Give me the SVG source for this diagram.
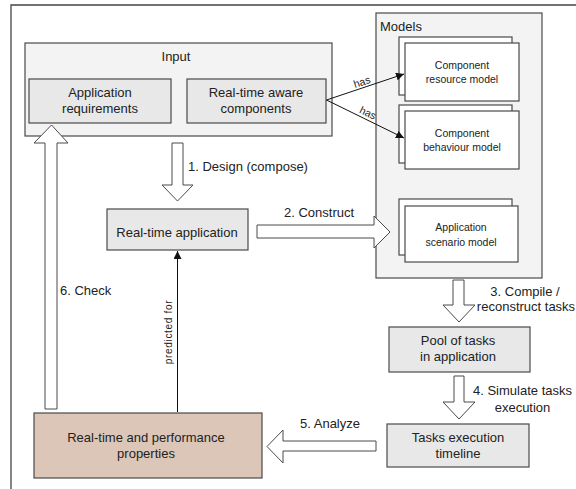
<svg xmlns="http://www.w3.org/2000/svg" width="576" height="489" viewBox="0 0 576 489">
<defs>
<style>
text{font-family:"Liberation Sans",Arial,sans-serif;fill:#222;}
.t13{font-size:13px;}
.t10{font-size:10.5px;}
.c{text-anchor:middle;}
.outer{fill:#f3f3f3;stroke:#4a4a4a;stroke-width:1.2;}
.inner{fill:#e8e8e8;stroke:#4a4a4a;stroke-width:1.2;}
.card{fill:#fff;stroke:#4a4a4a;stroke-width:1.2;}
.prop{fill:#dcc6b8;stroke:#4a4a4a;stroke-width:1.2;}
.blk{fill:#fff;stroke:#4a4a4a;stroke-width:1;}
.ln{fill:none;stroke:#111;stroke-width:1;}
</style>
<marker id="ah" viewBox="0 0 10 10" refX="10" refY="5" markerWidth="8" markerHeight="8" markerUnits="userSpaceOnUse" orient="auto">
<path d="M0,0 L10,5 L0,10 z" fill="#111"/>
</marker>
</defs>
<rect width="576" height="489" fill="#fff"/>
<path d="M11,489 V5 H576" fill="none" stroke="#444" stroke-width="1.3"/>

<g id="input">
<rect class="outer" x="25" y="43" width="307" height="93"/>
<text class="t13 c" x="176" y="61">Input</text>
</g>
<g id="app-req">
<rect class="inner" x="29" y="79" width="142" height="44"/>
<text class="t13 c" x="100" y="97">Application</text>
<text class="t13 c" x="100" y="113">requirements</text>
</g>
<g id="rt-components">
<rect class="inner" x="187" y="79" width="139" height="44"/>
<text class="t13 c" x="256" y="97">Real-time aware</text>
<text class="t13 c" x="256" y="113">components</text>
</g>

<g id="models">
<rect class="outer" x="376" y="13" width="166" height="265"/>
<text class="t13" x="380" y="30.5">Models</text>
</g>
<g id="comp-resource">
<rect class="card" x="399" y="37" width="113" height="58"/>
<rect class="card" x="405" y="43" width="114" height="58"/>
<text class="t10 c" x="462" y="68.5">Component</text>
<text class="t10 c" x="462" y="83">resource model</text>
</g>
<g id="comp-behaviour">
<rect class="card" x="399" y="105" width="113" height="58"/>
<rect class="card" x="405" y="111" width="114" height="58"/>
<text class="t10 c" x="462" y="136.5">Component</text>
<text class="t10 c" x="462" y="151">behaviour model</text>
</g>
<g id="app-scenario">
<rect class="card" x="399" y="199" width="113" height="56"/>
<rect class="card" x="405" y="206" width="113" height="56"/>
<text class="t10 c" x="461" y="230.5">Application</text>
<text class="t10 c" x="461" y="245.5">scenario model</text>
</g>

<g id="rt-app">
<rect class="inner" x="107" y="209" width="141" height="41"/>
<text class="t13 c" x="177" y="237">Real-time application</text>
</g>
<g id="pool">
<rect class="inner" x="389" y="327" width="141" height="45"/>
<text class="t13 c" x="458" y="345">Pool of tasks</text>
<text class="t13 c" x="458" y="361">in application</text>
</g>
<g id="timeline">
<rect class="inner" x="387" y="424" width="142" height="43"/>
<text class="t13 c" x="458" y="441.5">Tasks execution</text>
<text class="t13 c" x="458" y="457.5">timeline</text>
</g>
<g id="properties">
<rect class="prop" x="34" y="413" width="228" height="65"/>
<text class="t13 c" x="146" y="441.5">Real-time and performance</text>
<text class="t13 c" x="146" y="457.5">properties</text>
</g>

<g id="connectors">
<polygon class="blk" points="172,143 183,143 183,185 193,185 177.5,201 162,185 172,185"/>
<text class="t13" x="188" y="171">1. Design (compose)</text>
<polygon class="blk" points="257,225 374,225 374,216 390,232 374,248 374,238 257,238"/>
<text class="t13" x="284" y="217">2. Construct</text>
<polygon class="blk" points="453,280 464,280 464,305 475,305 459,322 443,305 453,305"/>
<text class="t13 c" x="525" y="295.5">3. Compile /</text>
<text class="t13 c" x="526" y="310.5">reconstruct tasks</text>
<polygon class="blk" points="454,376 464,376 464,402 475,402 459,419 443,402 454,402"/>
<text class="t13 c" x="522.5" y="395">4. Simulate tasks</text>
<text class="t13 c" x="522.5" y="412">execution</text>
<polygon class="blk" points="376,441 376,451 283,451 283,463 267,446.5 283,430 283,441"/>
<text class="t13" x="300" y="427.5">5. Analyze</text>
<polygon class="blk" points="45,409 45,143 34,143 51.5,125 68,143 57,143 57,409"/>
<text class="t13" x="60" y="295">6. Check</text>
<path class="ln" d="M326.5,100 L404,74" marker-end="url(#ah)"/>
<path class="ln" d="M326.5,100 L404,138" marker-end="url(#ah)"/>
<text class="t10 c" transform="translate(362,82) rotate(-18.4)" y="3.5">has</text>
<text class="t10 c" transform="translate(368,113) rotate(26)" y="3.5">has</text>
<path class="ln" d="M177.5,412 V251" marker-end="url(#ah)"/>
<text class="c" style="font-size:10px;letter-spacing:0.7px" transform="translate(172,332) rotate(-90)">predicted for</text>
</g>
</svg>
